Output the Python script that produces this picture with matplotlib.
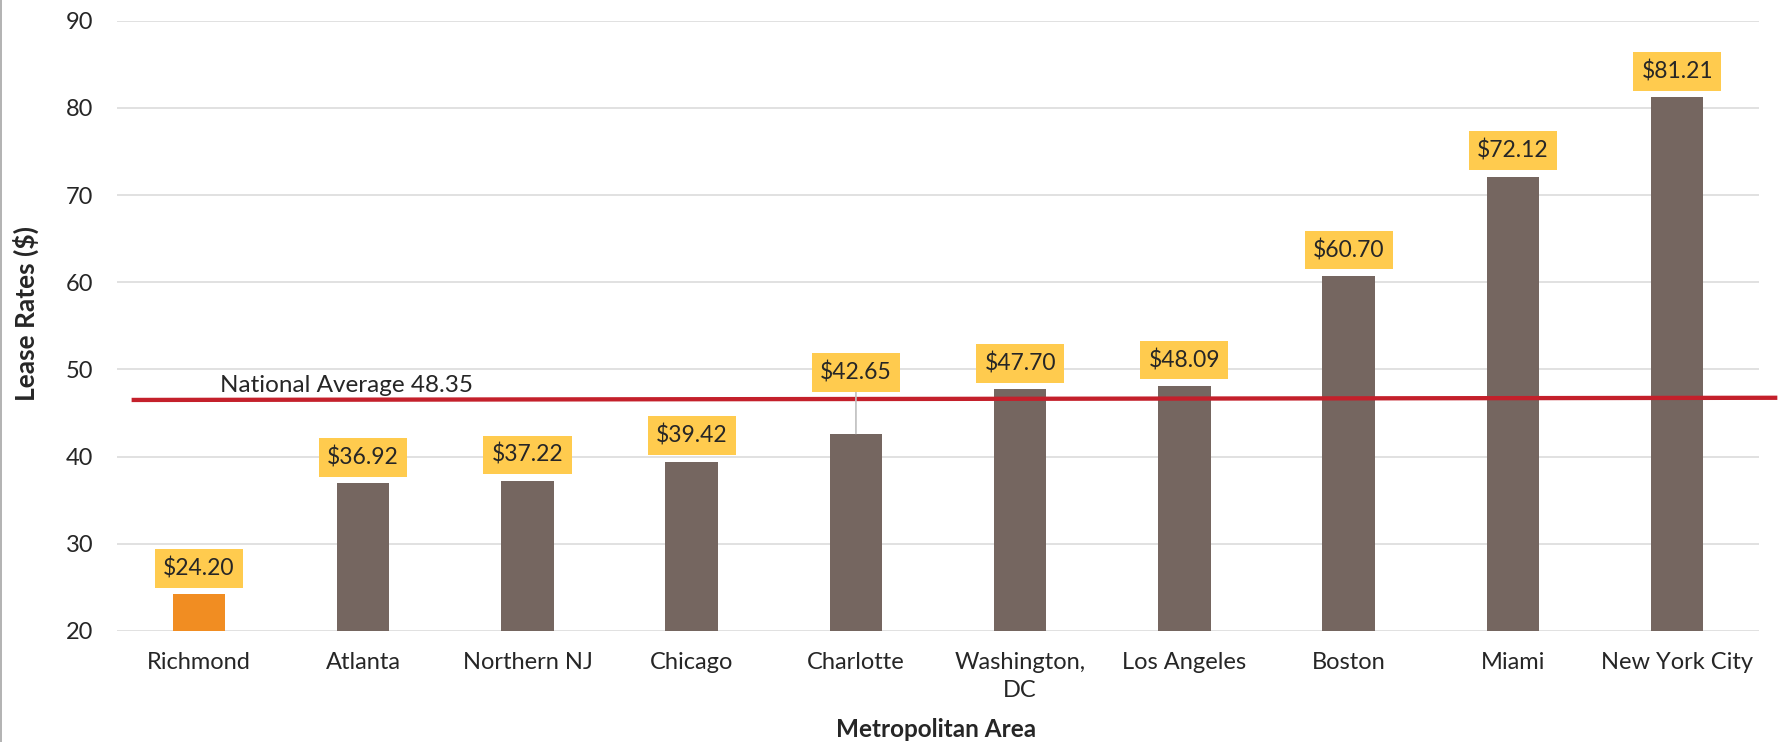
import matplotlib
matplotlib.use("Agg")
import matplotlib.pyplot as plt
from matplotlib.lines import Line2D

plt.rcParams['font.family'] = ['Lato', 'DejaVu Sans']

# data
cities = ['Richmond', 'Atlanta', 'Northern NJ', 'Chicago', 'Charlotte',
          'Washington,\nDC', 'Los Angeles', 'Boston', 'Miami', 'New York City']
lease_rates = [24.20, 36.92, 37.22, 39.42, 42.65, 47.70, 48.09, 60.70, 72.12, 81.21]
national_avg = 48.35
avg_line_y = [46.5, 46.75]   # where the red line is actually drawn (it sits a bit low)
y_ticks = [20, 30, 40, 50, 60, 70, 80, 90]

BROWN = '#756660'
ORANGE = '#F18D22'
GOLD = '#FFCB4E'
RED = '#C4202B'
TXT = '#262626'

fig = plt.figure(figsize=(17.81, 7.42), dpi=100)
ax = fig.add_axes([0.0656, 0.1496, 0.9222, 0.8225])

colors = [ORANGE] + [BROWN] * (len(cities) - 1)
x = list(range(len(cities)))
ax.bar(x, lease_rates, width=0.32, color=colors, zorder=2)

ax.set_xlim(-0.5, len(cities) - 0.5)
ax.set_ylim(20, 90)
ax.set_yticks(y_ticks)
ax.set_xticks(x)
ax.set_xticklabels(cities, linespacing=1.45)
ax.tick_params(axis='both', length=0, labelsize=17, colors=TXT)
ax.tick_params(axis='y', pad=17)
ax.tick_params(axis='x', pad=15)
ax.grid(axis='y', color='#D9D9D9', linewidth=1.1, zorder=0)
ax.set_axisbelow(True)
for s in ax.spines.values():
    s.set_visible(False)

# national average line (runs past the plot area on both sides)
ax.plot([-0.41, 9.61], avg_line_y, color=RED, linewidth=3.1, zorder=4,
        clip_on=False, solid_capstyle='butt')
ax.text(0.1275, 47.37, f'National Average {national_avg}', fontsize=17.5,
        color=TXT, ha='left', va='baseline', zorder=5)

# value labels; the Charlotte one sits higher with a leader line
for i, v in enumerate(lease_rates):
    if cities[i] == 'Charlotte':
        lift = 61
        arrow = dict(arrowstyle='-', color='#BFBFBF', lw=1.2, shrinkA=0, shrinkB=0)
    else:
        lift = 26
        arrow = None
    ax.annotate(f'${v:.2f}', xy=(i, v), xytext=(0, lift),
                textcoords='offset pixels', ha='center', va='center',
                fontsize=16.5, color=TXT, zorder=6,
                bbox=dict(boxstyle='square,pad=0.36', fc=GOLD, ec='none'),
                arrowprops=arrow)

fig.text(0.0146, 0.577, 'Lease Rates ($)', rotation=90, ha='center', va='center',
         fontsize=19, fontweight='bold', color=TXT)
fig.text(0.5255, 0.0165, 'Metropolitan Area', ha='center', va='center',
         fontsize=17.5, fontweight='bold', color=TXT)

# thin grey border on the left edge
fig.add_artist(Line2D([0.0004, 0.0004], [0, 1], transform=fig.transFigure,
                      color='#A6A6A6', linewidth=1.2))

fig.savefig('out.png', dpi=100)
